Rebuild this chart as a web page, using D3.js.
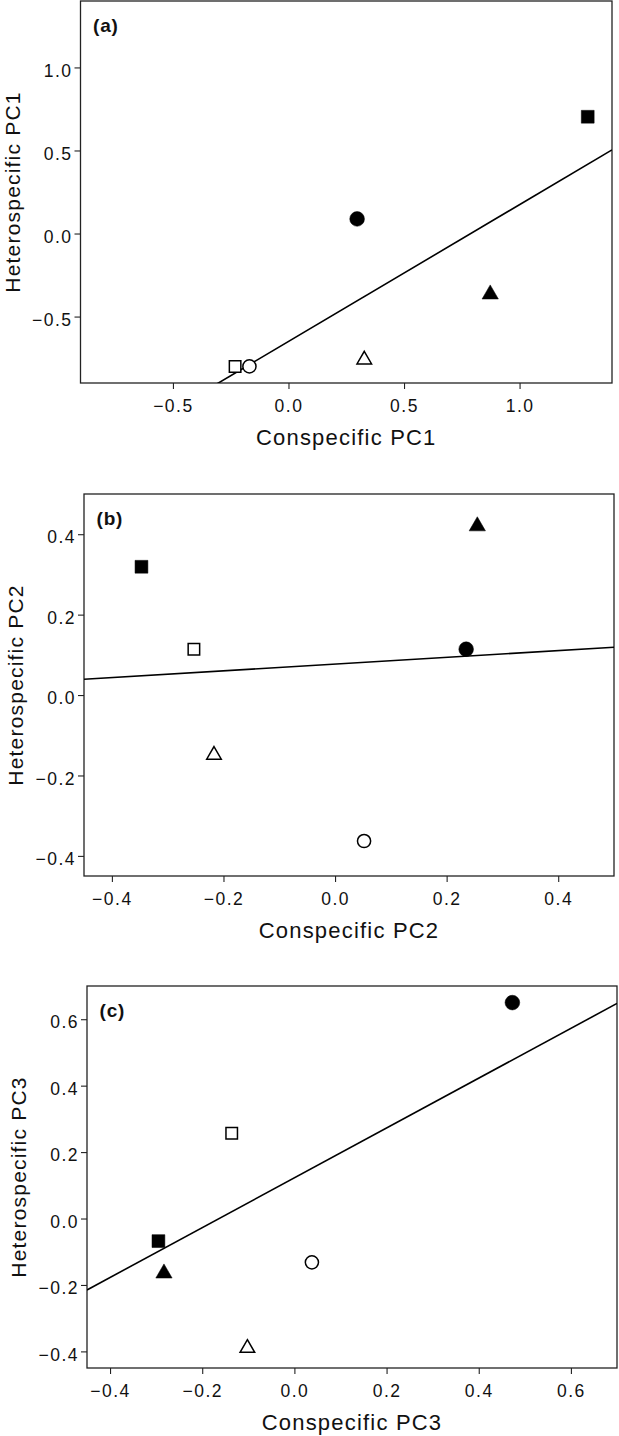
<!DOCTYPE html>
<html><head><meta charset="utf-8">
<script src="https://cdn.jsdelivr.net/npm/d3@7"></script>
<style>
html,body{margin:0;padding:0;background:#fff;}
svg{display:block;font-family:"Liberation Sans",Arial,sans-serif;}
</style></head>
<body>
<svg id="chart" width="619" height="1436"></svg>
<script>
// ---- data ----
const groups   = ["Filled square","Filled circle","Filled triangle","Open square","Open circle","Open triangle"];
const shapes   = ["square","circle","triangle","square","circle","triangle"];
const filled   = [true,true,true,false,false,false];

const conPC1 = [1.295, 0.297, 0.873, -0.231, -0.169, 0.328];
const hetPC1 = [0.703, 0.088, -0.366, -0.800, -0.800, -0.760];

const conPC2 = [-0.347, 0.235, 0.255, -0.253, 0.052, -0.217];
const hetPC2 = [0.319, 0.114, 0.420, 0.114, -0.363, -0.149];

const conPC3 = [-0.295, 0.473, -0.283, -0.136, 0.038, -0.102];
const hetPC3 = [-0.068, 0.650, -0.165, 0.257, -0.132, -0.390];

// fitted lines (slope, intercept) for PC1, PC2, PC3
const fitSlope     = [0.824, 0.084, 0.750];
const fitIntercept = [-0.650, 0.077, 0.1225];

const ticksA_x = [-0.5, 0.0, 0.5, 1.0];
const ticksA_y = [-0.5, 0.0, 0.5, 1.0];
const ticksB_x = [-0.4, -0.2, 0.0, 0.2, 0.4];
const ticksB_y = [-0.4, -0.2, 0.0, 0.2, 0.4];
const ticksC_x = [-0.4, -0.2, 0.0, 0.2, 0.4, 0.6];
const ticksC_y = [-0.4, -0.2, 0.0, 0.2, 0.4, 0.6];

// ---- layout ----
const panels = [
  {tag:"(a)", xs:conPC1, ys:hetPC1, xDom:[-0.9,1.4], yDom:[-0.9,1.4], xt:ticksA_x, yt:ticksA_y,
   xl:"Conspecific PC1", yl:"Heterospecific PC1", left:80.5, top:1, right:612, bottom:383},
  {tag:"(b)", xs:conPC2, ys:hetPC2, xDom:[-0.45,0.5], yDom:[-0.45,0.5], xt:ticksB_x, yt:ticksB_y,
   xl:"Conspecific PC2", yl:"Heterospecific PC2", left:84, top:494, right:614, bottom:876},
  {tag:"(c)", xs:conPC3, ys:hetPC3, xDom:[-0.45,0.7], yDom:[-0.45,0.7], xt:ticksC_x, yt:ticksC_y,
   xl:"Conspecific PC3", yl:"Heterospecific PC3", left:87, top:986, right:617, bottom:1368}
];

const svg = d3.select("#chart");
const fmt = d3.format(".1f");
const ink = "#111";

panels.forEach((p, pi) => {
  const x = d3.scaleLinear().domain(p.xDom).range([p.left, p.right]);
  const y = d3.scaleLinear().domain(p.yDom).range([p.bottom, p.top]);
  const g = svg.append("g");

  const cid = "clip"+pi;
  svg.append("clipPath").attr("id", cid).append("rect")
    .attr("x", p.left).attr("y", p.top).attr("width", p.right-p.left).attr("height", p.bottom-p.top);

  const xa = g.append("g").attr("transform", `translate(0,${p.bottom})`)
    .call(d3.axisBottom(x).tickValues(p.xt).tickFormat(fmt).tickSize(6).tickPadding(11));
  const ya = g.append("g").attr("transform", `translate(${p.left},0)`)
    .call(d3.axisLeft(y).tickValues(p.yt).tickFormat(fmt).tickSize(6).tickPadding(2));
  [xa, ya].forEach(a => {
    a.select(".domain").remove();
    a.selectAll("line").attr("stroke", "#222").attr("stroke-width", 1.1);
    a.selectAll("text").attr("fill", ink).style("font-size", "17.5px").style("letter-spacing", "1.5px");
  });
  ya.selectAll("text").attr("dy", "0.5em");

  g.append("rect").attr("x", p.left).attr("y", p.top)
    .attr("width", p.right-p.left).attr("height", p.bottom-p.top)
    .attr("fill", "none").attr("stroke", "#222").attr("stroke-width", 1.3);

  // fitted line
  const b = fitSlope[pi], a0 = fitIntercept[pi];
  g.append("line").attr("clip-path", `url(#${cid})`)
    .attr("x1", x(p.xDom[0])).attr("y1", y(a0 + b*p.xDom[0]))
    .attr("x2", x(p.xDom[1])).attr("y2", y(a0 + b*p.xDom[1]))
    .attr("stroke", "#000").attr("stroke-width", 1.6);

  // points
  const sym = {square: d3.symbolSquare, circle: d3.symbolCircle, triangle: d3.symbolTriangle};
  const size = {square: 165, circle: 170, triangle: 115};
  g.selectAll("path.pt").data(groups).join("path").attr("class","pt")
    .attr("transform", (d,i) => `translate(${x(p.xs[i])},${y(p.ys[i])})`)
    .attr("d", (d,i) => {
      const s = shapes[i];
      const sz = filled[i] ? size[s] : size[s]*0.8;
      return d3.symbol(sym[s], sz)();
    })
    .attr("fill", (d,i) => filled[i] ? "#000" : "#fff")
    .attr("stroke", "#000").attr("stroke-width", (d,i)=> filled[i] ? 0.5 : 1.5);

  g.append("text").attr("x", p.left+12.5).attr("y", p.top+30.5)
    .attr("fill", ink).style("font-size", "19px").style("font-weight", "bold")
    .style("letter-spacing", "0.8px").text(p.tag);

  g.append("text").attr("x", (p.left+p.right)/2).attr("y", p.bottom+62)
    .attr("text-anchor", "middle").attr("fill", ink)
    .style("font-size", "22px").style("letter-spacing", "1.2px").text(p.xl);
  g.append("text").attr("transform", `translate(${p.left-61},${(p.top+p.bottom)/2}) rotate(-90)`)
    .attr("text-anchor", "middle").attr("fill", ink)
    .style("font-size", "21px").style("letter-spacing", "1.2px").text(p.yl);
});
</script>
</body></html>
